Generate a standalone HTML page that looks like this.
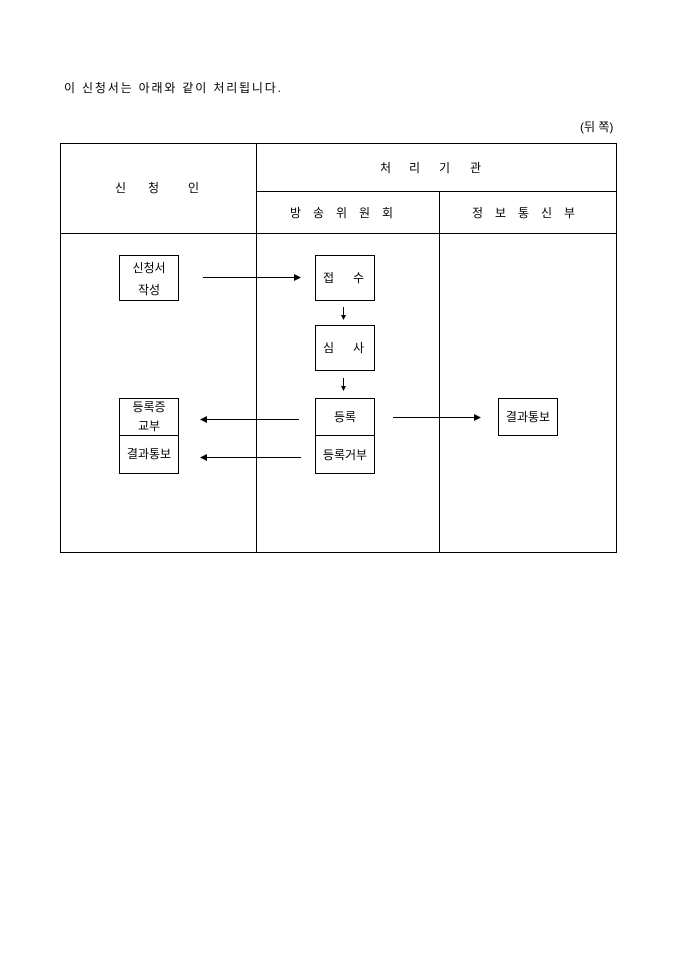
<!DOCTYPE html>
<html><head><meta charset="utf-8"><style>
html,body{margin:0;padding:0;background:#fff;}
svg text{font-family:"Liberation Sans","Noto Sans CJK KR","NanumGothic",sans-serif;font-size:12px;fill:#000;}
</style></head><body>
<svg width="680" height="962" xmlns="http://www.w3.org/2000/svg">
<text x="64" y="92" textLength="217" lengthAdjust="spacing">이 신청서는 아래와 같이 처리됩니다.</text>
<text x="580" y="131">(뒤 쪽)</text>
<g stroke="#000" stroke-width="1" fill="none" shape-rendering="crispEdges">
<rect x="60.5" y="143.5" width="556" height="409"/>
<line x1="256.5" y1="143" x2="256.5" y2="552"/>
<line x1="439.5" y1="191" x2="439.5" y2="552"/>
<line x1="256" y1="191.5" x2="616" y2="191.5"/>
<line x1="60" y1="233.5" x2="616" y2="233.5"/>
<rect x="119.5" y="255.5" width="59" height="45"/>
<rect x="315.5" y="255.5" width="59" height="45"/>
<rect x="315.5" y="325.5" width="59" height="45"/>
<rect x="315.5" y="398.5" width="59" height="75"/>
<line x1="315" y1="435.5" x2="374" y2="435.5"/>
<rect x="119.5" y="398.5" width="59" height="75"/>
<line x1="119" y1="435.5" x2="178" y2="435.5"/>
<rect x="498.5" y="398.5" width="59" height="37"/>
<line x1="203" y1="277.5" x2="294" y2="277.5"/>
<line x1="206" y1="419.5" x2="299" y2="419.5"/>
<line x1="206" y1="457.5" x2="301" y2="457.5"/>
<line x1="393" y1="417.5" x2="474" y2="417.5"/>
<line x1="343.5" y1="307" x2="343.5" y2="318"/>
<line x1="343.5" y1="378" x2="343.5" y2="389"/>
</g>
<g fill="#000">
<polygon points="301,277.5 294,274 294,281"/>
<polygon points="200,419.5 207,416 207,423"/>
<polygon points="200,457.5 207,454 207,461"/>
<polygon points="481,417.5 474,414 474,421"/>
<polygon points="343.5,320 341,315 346,315"/>
<polygon points="343.5,391 341,386 346,386"/>
</g>
<text x="115" y="192">신</text><text x="148" y="192">청</text><text x="188" y="192">인</text>
<text x="380" y="172">처</text><text x="409" y="172">리</text><text x="439" y="172">기</text><text x="470" y="172">관</text>
<text x="290" y="217">방</text><text x="313" y="217">송</text><text x="336" y="217">위</text><text x="359" y="217">원</text><text x="382" y="217">회</text>
<text x="472" y="217">정</text><text x="495" y="217">보</text><text x="518" y="217">통</text><text x="541" y="217">신</text><text x="564" y="217">부</text>
<text x="149" y="272" text-anchor="middle">신청서</text>
<text x="149" y="294" text-anchor="middle">작성</text>
<text x="323" y="282">접</text><text x="353" y="282">수</text>
<text x="323" y="352">심</text><text x="353" y="352">사</text>
<text x="345" y="421" text-anchor="middle">등록</text>
<text x="345" y="459" text-anchor="middle">등록거부</text>
<text x="149" y="411" text-anchor="middle">등록증</text>
<text x="149" y="430" text-anchor="middle">교부</text>
<text x="149" y="458" text-anchor="middle">결과통보</text>
<text x="528" y="421" text-anchor="middle">결과통보</text>
</svg>
</body></html>
